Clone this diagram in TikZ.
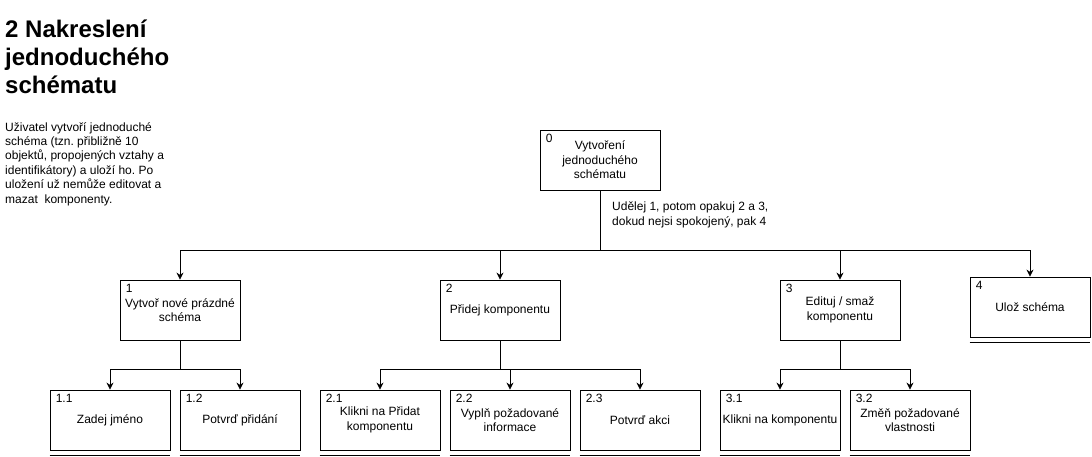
\documentclass[tikz,border=0pt]{standalone}
\usepackage{fontspec}
\setmainfont{Liberation Sans}
\frenchspacing
\usetikzlibrary{arrows.meta,positioning}

\tikzset{
    task/.style={draw,line width=0.8pt,minimum width=120pt,minimum height=60pt,
        inner sep=1pt,align=center,font=\fontsize{12pt}{14.4pt}\selectfont},
    tasknum/.style={anchor=north west,inner sep=0pt,font=\fontsize{12pt}{14.4pt}\selectfont},
    link/.style={line width=0.8pt},
    arrow/.style={line width=0.8pt,-{Stealth[length=7pt,width=7pt]}},
    stopline/.style={line width=1.4pt},
    note/.style={anchor=north west,inner sep=0pt,align=left,font=\fontsize{12pt}{14.4pt}\selectfont}
}

\begin{document}
\begin{tikzpicture}[x=1pt,y=-1pt]
        % Page frame
        \useasboundingbox (0,0) rectangle (1092,457);

        % Heading and description
        \node[anchor=north west,inner sep=0pt,align=left,font=\bfseries\fontsize{24pt}{28pt}\selectfont] (title) at (5,20)
            {2 Nakreslení\\jednoduchého\\schématu};
        \node[note] (desc) at (5,122) {Uživatel vytvoří jednoduché\\schéma (tzn. přibližně 10\\objektů, propojených vztahy a\\identifikátory) a uloží ho. Po\\uložení už nemůže editovat a\\mazat\ \ komponenty.};

        % Top task
        \node[task] (t0) at (600,160) {Vytvoření\\jednoduchého\\schématu};
        \node[tasknum] at ([shift={(6pt,-4pt)}]t0.north west) {0};
        \node[note] (plan0) at (612,202) {Udělej 1, potom opakuj 2 a 3,\\dokud nejsi spokojený, pak 4};

        % Level 1
        \node[task] (t1) at (180,310) {Vytvoř nové prázdné\\schéma};
        \node[task] (t2) at (500,310) {Přidej komponentu};
        \node[task] (t3) at (840,310) {Edituj / smaž\\komponentu};
        \node[task] (t4) at (1030,307) {Ulož schéma};
        \foreach \n/\k in {t1/1, t2/2, t3/3, t4/4}
            \node[tasknum] at ([shift={(6pt,-4pt)}]\n.north west) {\k};

        % Level 2
        \node[task] (t11) at (110,420) {Zadej jméno};
        \node[task] (t12) at (240,420) {Potvrď přidání};
        \node[task] (t21) at (380,420) {Klikni na Přidat\\komponentu};
        \node[task] (t22) at (510,420) {Vyplň požadované\\informace};
        \node[task] (t23) at (640,420) {Potvrď akci};
        \node[task] (t31) at (780,420) {Klikni na komponentu};
        \node[task] (t32) at (910,420) {Změň požadované\\vlastnosti};
        \foreach \n/\k in {t11/1.1, t12/1.2, t21/2.1, t22/2.2, t23/2.3, t31/3.1, t32/3.2}
            \node[tasknum] at ([shift={(6pt,-4pt)}]\n.north west) {\k};

        % Connectors
        \coordinate (bus0) at (600,250);
        \coordinate (bus1) at (180,369);
        \coordinate (bus2) at (500,369);
        \coordinate (bus3) at (840,369);
        \draw[link] (t0) -- (bus0);
        \foreach \n in {t1,t2,t3,t4}
            \draw[arrow] (bus0) -| (\n.north);
        \draw[link] (t1) -- (bus1);
        \foreach \n in {t11,t12}
            \draw[arrow] (bus1) -| (\n.north);
        \draw[link] (t2) -- (bus2);
        \foreach \n in {t21,t22,t23}
            \draw[arrow] (bus2) -| (\n.north);
        \draw[link] (t3) -- (bus3);
        \foreach \n in {t31,t32}
            \draw[arrow] (bus3) -| (\n.north);

        % Lines under tasks that are not split further
        \foreach \n in {t4,t11,t12,t21,t22,t23,t31,t32}
            \draw[stopline] ([yshift=-5pt]\n.south west) -- ([yshift=-5pt]\n.south east);
    \end{tikzpicture}
\end{document}
